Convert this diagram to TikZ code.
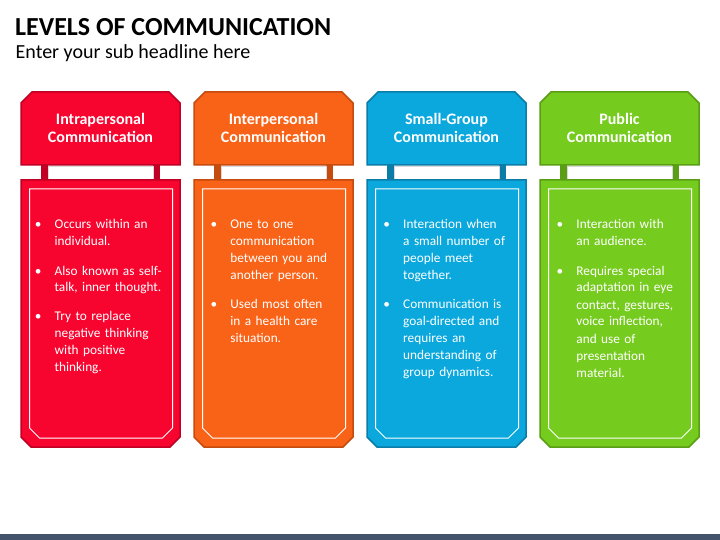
\documentclass[tikz,border=0pt]{standalone}
\usepackage{fontspec}
\setmainfont{Carlito}
\definecolor{redF}{HTML}{F7052F}
\definecolor{redB}{HTML}{C00024}
\definecolor{orgF}{HTML}{F96318}
\definecolor{orgB}{HTML}{C64B0F}
\definecolor{bluF}{HTML}{0AA8DC}
\definecolor{bluB}{HTML}{0B7DA8}
\definecolor{grnF}{HTML}{76CB1F}
\definecolor{grnB}{HTML}{5A9E15}
\definecolor{barC}{HTML}{44546A}
\tikzset{
  headtxt/.style={anchor=base, inner sep=0pt, text=white, font=\bfseries\fontsize{16}{19}\selectfont},
  bul/.style={anchor=base, inner sep=0pt, text=white, font=\fontsize{13.3}{17}\selectfont},
  btxt/.style={anchor=base west, inner sep=0pt, text=white, text width=140pt, align=left, font=\fontsize{13.3}{17}\selectfont},
  boxline/.style={line width=1.5pt, line join=miter},
}
\newcommand{\levelcol}[6]{%
  \begin{scope}[shift={(#1,0)}]
    \draw[boxline, fill=#2, draw=#3] (0,165) -- (0,103) -- (11,92) -- (148,92) -- (159,103) -- (159,165) -- cycle;
    \fill[#3] (20,165) rectangle (27,180);
    \fill[#3] (132,165) rectangle (138.5,180);
    \draw[fill=white, draw=gray!30, line width=0.5pt] (27,166) rectangle (132,179);
    \draw[boxline, fill=#2, draw=#3] (0,180) -- (0,437) -- (10,447) -- (149,447) -- (159,437) -- (159,180) -- cycle;
    \draw[white, line width=1pt] (8.5,189) -- (8.5,428) -- (18.5,438) -- (141.5,438) -- (151.5,428) -- (151.5,189) -- cycle;
    \node[headtxt] (#4-h1) at (79.5,124.3) {#5};
    \node[headtxt] (#4-h2) at (79.5,142.7) {#6};
  \end{scope}}
% name, column x, baseline y, text, extra x offset
\newcommand{\bpara}[5]{%
  \node[bul] (#1-b) at (#2+17.3+#5,#3) {•};
  \node[btxt] (#1-t) at (#2+33.5+#5,#3) {#4};}
\begin{document}
\begin{tikzpicture}[x=1pt,y=-1pt]
  \useasboundingbox (0,0) rectangle (720,540);
  \fill[white] (0,0) rectangle (720,540);
  \node[anchor=base west, inner sep=0pt, font=\bfseries\fontsize{26}{30}\selectfont] (title) at (15,36) {LEVELS OF COMMUNICATION};
  \node[anchor=base west, inner sep=0pt, font=\fontsize{20}{24}\selectfont] (sub) at (15.5,58.3) {Enter your sub headline here};
  \fill[barC] (0,534) rectangle (720,540);

  \levelcol{21}{redF}{redB}{c1}{Intrapersonal}{Communication}
  \levelcol{194}{orgF}{orgB}{c2}{Interpersonal}{Communication}
  \levelcol{367}{bluF}{bluB}{c3}{Small-Group}{Communication}
  \levelcol{540}{grnF}{grnB}{c4}{Public}{Communication}

  \bpara{c1p1}{21}{229}{Occurs within an\\individual.}{0}
  \bpara{c1p2}{21}{275}{Also known as self-\\talk, inner thought.}{0}
  \bpara{c1p3}{21}{320.5}{Try to replace\\negative thinking\\with positive\\thinking.}{0}

  \bpara{c2p1}{194}{229}{One to one\\communication\\between you and\\another person.}{2.7}
  \bpara{c2p2}{194}{308.5}{Used most often\\in a health care\\situation.}{2.7}

  \bpara{c3p1}{367}{229}{Interaction when\\a small number of\\people meet\\together.}{2.5}
  \bpara{c3p2}{367}{308.5}{Communication is\\goal-directed and\\requires an\\understanding of\\group dynamics.}{2.5}

  \bpara{c4p1}{540}{229}{Interaction with\\an audience.}{2.7}
  \bpara{c4p2}{540}{275}{Requires special\\adaptation in eye\\contact, gestures,\\voice inflection,\\and use of\\presentation\\material.}{2.7}
\end{tikzpicture}
\end{document}
